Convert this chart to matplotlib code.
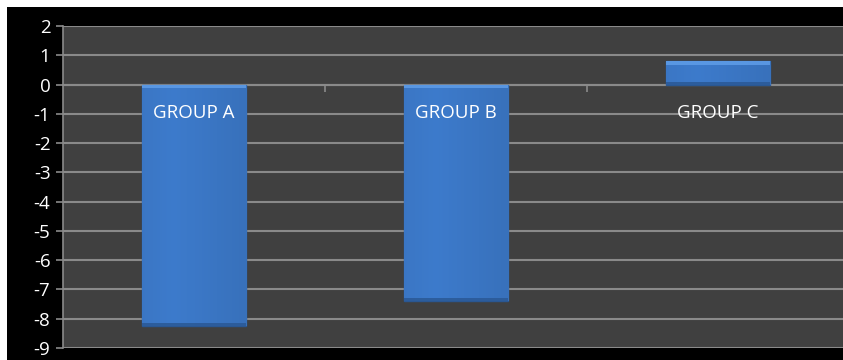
import matplotlib
matplotlib.use("Agg")
import matplotlib.pyplot as plt
import numpy as np
from matplotlib.patches import Rectangle

categories = ["GROUP A", "GROUP B", "GROUP C"]
values = [-8.25, -7.4, 0.8]
yticks = [2, 1, 0, -1, -2, -3, -4, -5, -6, -7, -8, -9]

W, H = 843, 360
fig = plt.figure(figsize=(W / 100, H / 100), dpi=100, facecolor="white")
# black chart area
fig.patches.append(Rectangle((7 / W, 0), 1, 1 - 7 / H, transform=fig.transFigure,
                             facecolor="black", edgecolor="none", zorder=-10))

left = 63 / W
top = 1 - 26 / H
bottom = 1 - 348 / H
ax = fig.add_axes([left, bottom, 1 - left, top - bottom])
ax.set_zorder(5)
ax.set_facecolor("#404040")

x = np.arange(len(categories))
bars = ax.bar(x, values, width=0.4, color="#3a75c2", edgecolor="#2a5792",
              linewidth=1.0, zorder=3)

# gradient/bevel shading
base = np.array([0x3a, 0x75, 0xc2]) / 255
for b in bars:
    bx, bw = b.get_x(), b.get_width()
    y0, y1 = sorted([b.get_y(), b.get_y() + b.get_height()])
    grad = np.linspace(0, 1, 100)
    horiz = 1 - np.abs(grad - 0.3)
    img = np.zeros((2, 100, 3))
    for k in range(2):
        img[k] = np.clip(base[None, :] * (0.93 + 0.12 * horiz[:, None]), 0, 1)
    im = ax.imshow(img, extent=[bx, bx + bw, y0, y1], aspect="auto",
                   zorder=3.5, interpolation="bilinear")
    im.set_clip_path(b)
    # top bevel highlight
    ax.add_patch(Rectangle((bx, y1 - 0.13), bw, 0.13,
                           facecolor="#5d9be6", edgecolor="none", zorder=4, alpha=0.9))
    # bottom bevel
    ax.add_patch(Rectangle((bx, y0), bw, 0.1,
                           facecolor="#2b5a98", edgecolor="none", zorder=4, alpha=0.9))

ax.set_ylim(-9, 2)
ax.set_xlim(-0.5, 2.5 - 6 / 262)
ax.set_yticks(yticks)
ax.set_yticklabels([str(t) for t in yticks], color="white", fontsize=13.5,
                   family=["Open Sans", "DejaVu Sans"])
ax.yaxis.grid(True, color="#8a8a8a", linewidth=1.5, zorder=1)
ax.set_axisbelow(True)
ax.tick_params(axis="y", length=5, width=1.2, color="#8a8a8a", pad=4)

for s in ["top", "right"]:
    ax.spines[s].set_visible(False)
ax.spines["left"].set_color("#8a8a8a")
ax.spines["left"].set_linewidth(1.2)
ax.spines["bottom"].set_position(("data", 0))
ax.spines["bottom"].set_color("#8a8a8a")
ax.spines["bottom"].set_linewidth(1.5)
ax.spines["bottom"].set_zorder(2)

ax.set_xticks(x)
ax.set_xticklabels([])
ax.tick_params(axis="x", which="major", length=0)
ax.set_xticks([0.5, 1.5], minor=True)
ax.tick_params(axis="x", which="minor", length=5, width=1.2, color="#8a8a8a")

for xi, lab in zip(x, categories):
    ax.text(xi, -0.97, lab, color="white", fontsize=13.5, ha="center", va="center",
            family=["Open Sans", "DejaVu Sans"], zorder=6)

fig.savefig("out.png", dpi=100, facecolor="white")
